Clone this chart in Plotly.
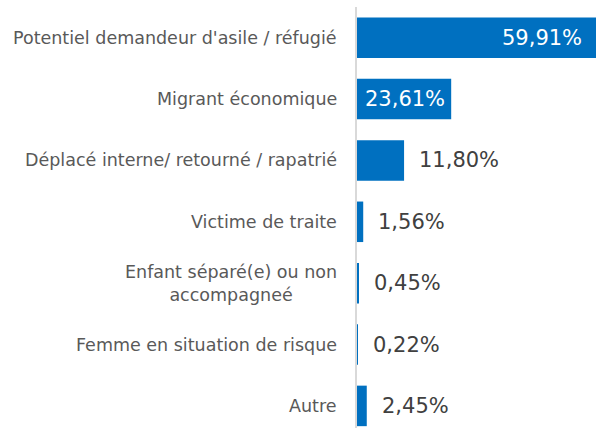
import plotly.graph_objects as go

categories = [
    "Potentiel demandeur d'asile / réfugié",
    "Migrant économique",
    "Déplacé interne/ retourné / rapatrié",
    "Victime de traite",
    "Enfant séparé(e) ou non<br>accompagneé",
    "Femme en situation de risque",
    "Autre",
]
values = [59.91, 23.61, 11.80, 1.56, 0.45, 0.22, 2.45]
labels = ["59,91%", "23,61%", "11,80%", "1,56%", "0,45%", "0,22%", "2,45%"]

blue = "#0070C0"

fig = go.Figure(go.Bar(
    x=values, y=categories, orientation="h",
    marker=dict(color=blue, line=dict(width=0)),
    width=0.66,
    hoverinfo="skip",
))

for v, c, t in zip(values, categories, labels):
    # category label, centred lines like the original
    fig.add_annotation(
        x=0, y=c, text=c, showarrow=False, xanchor="right", xshift=-18,
        align="center",
        font=dict(family="DejaVu Sans", size=17.5, color="#595959"),
    )
    # value labels: inside (white) for the big bars, outside for the rest
    inside = v > 20
    fig.add_annotation(
        x=v, y=c, text=t, showarrow=False,
        xanchor="right" if inside else "left",
        xshift=(-12 if v > 50 else -4) if inside else 13,
        font=dict(family="DejaVu Sans", size=21,
                  color="white" if inside else "#404040"),
    )

fig.update_layout(
    width=596, height=428,
    margin=dict(l=357, r=0, t=7, b=0),
    paper_bgcolor="white", plot_bgcolor="white",
    showlegend=False,
    font=dict(family="DejaVu Sans", size=17.5, color="#595959"),
)
fig.update_xaxes(range=[0, 59.91], visible=False, showgrid=False, zeroline=False)
fig.update_yaxes(
    categoryorder="array", categoryarray=categories,
    range=[6.36, -0.5],
    showline=True, linecolor="#d9d9d9", linewidth=2,
    ticks="", showticklabels=False, showgrid=False,
)

fig.write_html("out.html", config={"displayModeBar": False},
               post_script="document.body.style.margin='0';")
